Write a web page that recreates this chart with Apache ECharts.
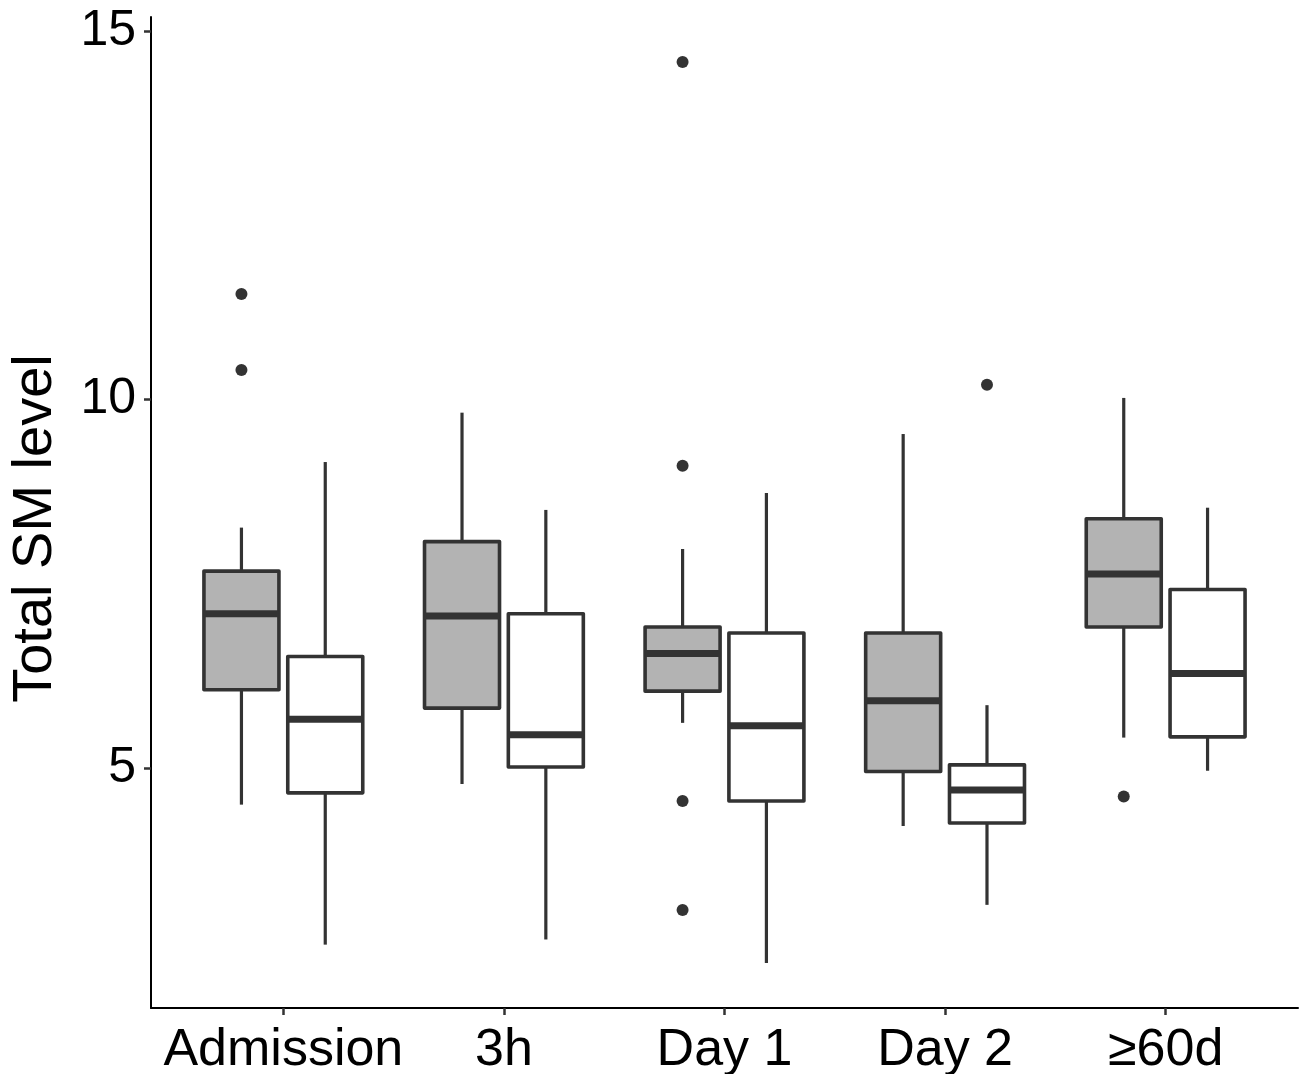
<!DOCTYPE html>
<html>
<head>
<meta charset="utf-8">
<script src="https://cdn.jsdelivr.net/npm/echarts@6/dist/echarts.min.js"></script>
<style>
html,body{margin:0;padding:0;background:#fff;}
#chart{width:1303px;height:1074px;}
</style>
</head>
<body>
<div id="chart"></div>
<script>
// Categories (time points)
const categories = ['Admission', '3h', 'Day 1', 'Day 2', '≥60d'];
// Box stats per category: [lowWhisker, Q1, median, Q3, highWhisker]
const greyBoxes = [
  [4.50, 6.06, 7.09, 7.67, 8.26],
  [4.78, 5.81, 7.06, 8.07, 9.82],
  [5.61, 6.04, 6.55, 6.91, 7.97],
  [4.21, 4.95, 5.91, 6.83, 9.53],
  [5.41, 6.91, 7.63, 8.38, 10.02]
];
const whiteBoxes = [
  [2.60, 4.66, 5.66, 6.51, 9.15],
  [2.67, 5.01, 5.45, 7.09, 8.50],
  [2.35, 4.55, 5.57, 6.83, 8.73],
  [3.14, 4.25, 4.70, 5.04, 5.85],
  [4.96, 5.42, 6.28, 7.42, 8.53]
];
// Outliers: [categoryIndex, value]
const greyOutliers = [[0, 11.43], [0, 10.40], [2, 14.58], [2, 9.10], [2, 4.55], [2, 3.07], [4, 4.61]];
const whiteOutliers = [[3, 10.20]];
// Y tick labels
const yTicks = [5, 10, 15];

const DODGE = 0.19;
const BOX_W = 0.34;
const LINE = '#333333';

function boxData(boxes, offset) {
  return boxes.map((b, i) => [i + 1 + offset].concat(b));
}
function outData(outs, offset) {
  return outs.map(o => [o[0] + 1 + offset, o[1]]);
}

function renderBox(fill) {
  return function (params, api) {
    const x = api.value(0);
    const lo = api.coord([x, api.value(1)]);
    const q1 = api.coord([x, api.value(2)]);
    const md = api.coord([x, api.value(3)]);
    const q3 = api.coord([x, api.value(4)]);
    const hi = api.coord([x, api.value(5)]);
    const half = api.size([BOX_W, 0])[0] / 2;
    const cx = lo[0];
    return {
      type: 'group',
      children: [
        { type: 'line', shape: { x1: cx, y1: hi[1], x2: cx, y2: q3[1] }, style: { stroke: LINE, lineWidth: 3.2 } },
        { type: 'line', shape: { x1: cx, y1: q1[1], x2: cx, y2: lo[1] }, style: { stroke: LINE, lineWidth: 3.2 } },
        { type: 'rect', shape: { x: cx - half, y: q3[1], width: 2 * half, height: q1[1] - q3[1] },
          style: { fill: fill, stroke: LINE, lineWidth: 3.6, lineJoin: 'round' } },
        { type: 'line', shape: { x1: cx - half, y1: md[1], x2: cx + half, y2: md[1] }, style: { stroke: LINE, lineWidth: 7 } }
      ]
    };
  };
}

const chart = echarts.init(document.getElementById('chart'), null, { renderer: 'canvas' });
chart.setOption({
  animation: false,
  backgroundColor: '#ffffff',
  grid: { left: 151, right: 5, top: 17, bottom: 66, containLabel: false, outerBoundsMode: 'none' },
  xAxis: {
    type: 'value',
    min: 0.4, max: 5.6,
    splitLine: { show: false },
    axisLine: { show: true, onZero: false, lineStyle: { color: '#000', width: 2 } },
    axisTick: { show: true, customValues: [1, 2, 3, 4, 5], length: 7, lineStyle: { color: LINE, width: 2.5 } },
    axisLabel: {
      customValues: [1, 2, 3, 4, 5],
      formatter: v => categories[Math.round(v) - 1] || '',
      color: '#000', fontSize: 52, fontFamily: 'Liberation Sans, Arial, sans-serif', margin: 17
    }
  },
  yAxis: {
    type: 'value',
    min: 1.74, max: 15.19,
    name: 'Total SM level',
    nameLocation: 'middle',
    nameGap: 87,
    nameRotate: 90,
    nameTextStyle: { color: '#000', fontSize: 56, fontFamily: 'Liberation Sans, Arial, sans-serif', padding: [0, 32, 0, 0] },
    splitLine: { show: false },
    axisLine: { show: true, onZero: false, lineStyle: { color: '#000', width: 2 } },
    axisTick: { show: true, customValues: yTicks, length: 7, lineStyle: { color: LINE, width: 2.5 } },
    axisLabel: {
      customValues: yTicks,
      color: '#000', fontSize: 50, fontFamily: 'Liberation Sans, Arial, sans-serif', margin: 15
    }
  },
  series: [
    { type: 'custom', name: 'grey', data: boxData(greyBoxes, -DODGE), renderItem: renderBox('#B3B3B3'),
      encode: { x: 0, y: [1, 2, 3, 4, 5] }, z: 2 },
    { type: 'custom', name: 'white', data: boxData(whiteBoxes, DODGE), renderItem: renderBox('#FFFFFF'),
      encode: { x: 0, y: [1, 2, 3, 4, 5] }, z: 2 },
    { type: 'scatter', data: outData(greyOutliers, -DODGE), symbol: 'circle', symbolSize: 12,
      itemStyle: { color: LINE, opacity: 1 }, z: 3 },
    { type: 'scatter', data: outData(whiteOutliers, DODGE), symbol: 'circle', symbolSize: 12,
      itemStyle: { color: LINE, opacity: 1 }, z: 3 }
  ]
});
</script>
</body>
</html>
